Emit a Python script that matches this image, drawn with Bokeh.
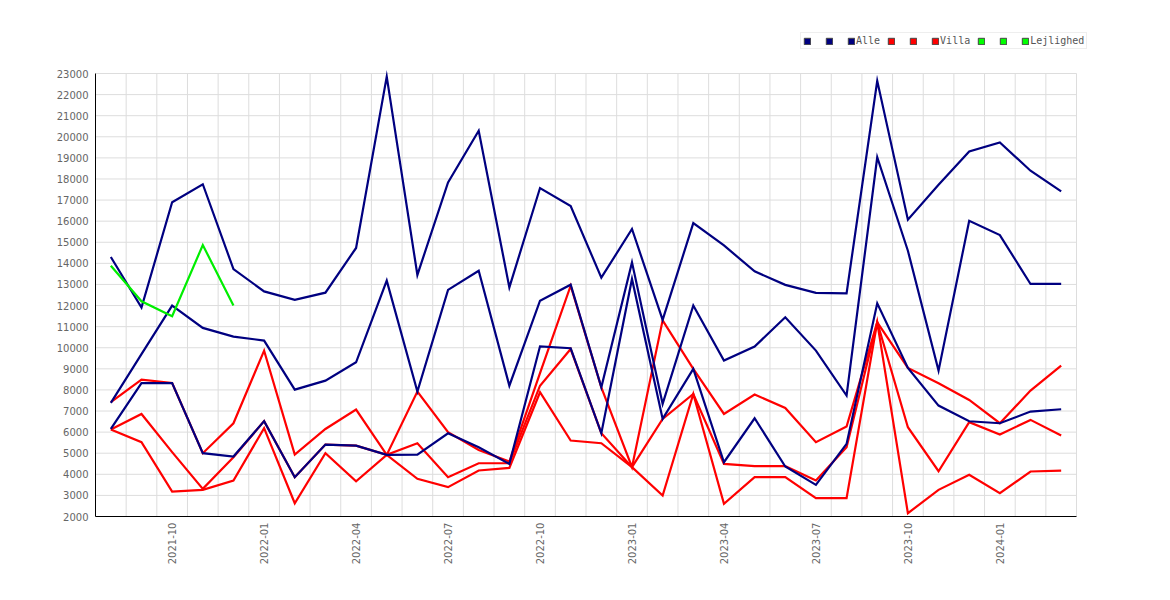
import math
from bokeh.plotting import figure
from bokeh.models import Range1d, FixedTicker, Legend, LegendItem
from bokeh.core.properties import value
from bokeh.embed import file_html
from bokeh.resources import INLINE

months = ["2021-08", "2021-09", "2021-10", "2021-11", "2021-12",
          "2022-01", "2022-02", "2022-03", "2022-04", "2022-05", "2022-06",
          "2022-07", "2022-08", "2022-09", "2022-10", "2022-11", "2022-12",
          "2023-01", "2023-02", "2023-03", "2023-04", "2023-05", "2023-06",
          "2023-07", "2023-08", "2023-09", "2023-10", "2023-11", "2023-12",
          "2024-01", "2024-02", "2024-03"]
tick_months = ["2021-10", "2022-01", "2022-04", "2022-07", "2022-10",
               "2023-01", "2023-04", "2023-07", "2023-10", "2024-01"]

alle_hi = [14300, 11900, 16900, 17750, 13730, 12670, 12270, 12610, 14730, 22850,
           13450, 17840, 20290, 12860, 17570, 16720, 13320, 15630, 11320, 15910,
           14850, 13620, 12980, 12600, 12580, 22650, 16070, 17730, 19300, 19730,
           18390, 17410]
alle_mid = [7390, 9700, 12000, 10940, 10530, 10340, 8016, 8440, 9310, 13180,
            7920, 12740, 13650, 8200, 12230, 12990, 8127, 14047, 7337, 12000,
            9390, 10053, 11443, 9863, 7732, 19030, 14600, 8916, 16020, 15340,
            13023, 13023]
alle_lo = [6150, 8320, 8320, 5000, 4840, 6520, 3860, 5410, 5360, 4920,
           4935, 5946, 5284, 4495, 10069, 9975, 5946, 13259, 6626, 8995,
           4573, 6657, 4369, 3500, 5442, 12106, 9042, 7258, 6516, 6421,
           6974, 7085]

villa_a = [7420, 8490, 8330, 5000, 6420, 9860, 4940, 6150, 7070, 4920,
           7920, 6000, 5150, 4600, 8800, 12940, 8120, 4340, 11300, 9000,
           6864, 7780, 7147, 5522, 6263, 11206, 9042, 8316, 7526, 6421,
           7969, 9153]
villa_b = [6120, 6860, 5050, 3310, 4810, 6520, 3860, 5410, 5360, 4920,
           5474, 3862, 4525, 4530, 8200, 9940, 5950, 4340, 6626, 7810,
           4495, 4385, 4385, 3705, 5283, 11206, 6232, 4146, 6469, 5884,
           6580, 5837]
villa_c = [6120, 5520, 3180, 3260, 3700, 6190, 2630, 5000, 3670, 4920,
           3784, 3390, 4180, 4305, 7890, 5600, 5474, 4340, 2995, 7810,
           2600, 3863, 3863, 2870, 2870, 11206, 2156, 3263, 3974, 3105,
           4132, 4179]

lejlighed = [13890, 12200, 11490, 14870, 12000]

y_ticks = list(range(2000, 23001, 1000))

x_all = list(range(len(months)))
x_lej = list(range(len(lejlighed)))

Y_MIN, Y_MAX = 2000, 23000
X_MIN, X_MAX = -0.5, len(months) - 0.5
PX_PER_X = 981.0 / (X_MAX - X_MIN)
PX_PER_Y = 443.0 / (Y_MAX - Y_MIN)
# the frame extends beyond the value area (up and right) to hold the legend
y_top = Y_MAX + (73 - 20) / PX_PER_Y
x_right = X_MAX + (1110 - 1076) / PX_PER_X

p = figure(width=1160, height=590, output_backend="svg", toolbar_location=None,
           x_range=Range1d(X_MIN, x_right), y_range=Range1d(Y_MIN, y_top),
           min_border_left=95, min_border_right=50, min_border_top=20,
           min_border_bottom=74)
p.outline_line_color = None
p.background_fill_color = "white"
p.border_fill_color = "white"

# axes
tick_idx = [months.index(m) for m in tick_months]
p.xaxis.ticker = FixedTicker(ticks=tick_idx)
p.xaxis.major_label_overrides = {i: m for i, m in zip(tick_idx, tick_months)}
p.xaxis.major_label_orientation = math.pi / 2
p.xaxis.bounds = (X_MIN, X_MAX)
p.yaxis.ticker = FixedTicker(ticks=y_ticks)
p.yaxis.major_label_overrides = {t: str(t) for t in y_ticks}
p.yaxis.bounds = (Y_MIN, Y_MAX)
for ax in (p.xaxis, p.yaxis):
    ax.axis_line_color = "black"
    ax.axis_line_width = 1
    ax.major_tick_out = 0
    ax.major_tick_in = 0
    ax.minor_tick_out = 0
    ax.minor_tick_in = 0
    ax.major_label_text_font = "DejaVu Sans"
    ax.major_label_text_font_size = "10px"
    ax.major_label_text_color = "#666666"
p.yaxis.major_label_standoff = 7
p.xaxis.major_label_standoff = 6

# grid lines limited to the value area
p.xgrid.visible = False
p.ygrid.visible = False
grid_x = [i + 0.5 for i in range(len(months))]
p.segment(x0=grid_x, y0=[Y_MIN] * len(grid_x), x1=grid_x, y1=[Y_MAX] * len(grid_x),
          line_color="#dddddd", line_width=1, level="underlay")
grid_y = y_ticks[1:]
p.segment(x0=[X_MIN] * len(grid_y), y0=grid_y, x1=[X_MAX] * len(grid_y), y1=grid_y,
          line_color="#dddddd", line_width=1, level="underlay")

NAVY = "#000080"
RED = "#ff0000"
GREEN = "#00ee00"

for ys in (villa_a, villa_b, villa_c):
    p.line(x_all, ys, line_color=RED, line_width=2.2, line_join="miter")
for ys in (alle_hi, alle_mid, alle_lo):
    p.line(x_all, ys, line_color=NAVY, line_width=2.2, line_join="miter")
p.line(x_lej, lejlighed, line_color=GREEN, line_width=2.2, line_join="miter")

# legend swatches (kept outside the visible range)
sw_navy = p.quad(left=[-10], right=[-9], bottom=[0], top=[1], fill_color=NAVY, line_color="#444444", line_width=1)
sw_red = p.quad(left=[-10], right=[-9], bottom=[0], top=[1], fill_color=RED, line_color="#444444", line_width=1)
sw_green = p.quad(left=[-10], right=[-9], bottom=[0], top=[1], fill_color="#00ff00", line_color="#444444", line_width=1)

items = []
for sw, name in ((sw_navy, "Alle"), (sw_red, "Villa"), (sw_green, "Lejlighed")):
    items.append(LegendItem(label=value(" "), renderers=[sw]))
    items.append(LegendItem(label=value(" "), renderers=[sw]))
    items.append(LegendItem(label=value(name), renderers=[sw]))

legend = Legend(items=items, orientation="horizontal", location=(705, 467),
                glyph_width=8, glyph_height=8, label_standoff=1, spacing=7,
                padding=2, margin=0, label_width=6, label_height=0,
                label_text_font="DejaVu Sans Mono", label_text_font_size="10px",
                label_text_color="#555555", border_line_color="#dddddd",
                border_line_width=1, background_fill_color="white",
                background_fill_alpha=1.0)
p.add_layout(legend)

open("out.html", "w").write(file_html(p, INLINE))
